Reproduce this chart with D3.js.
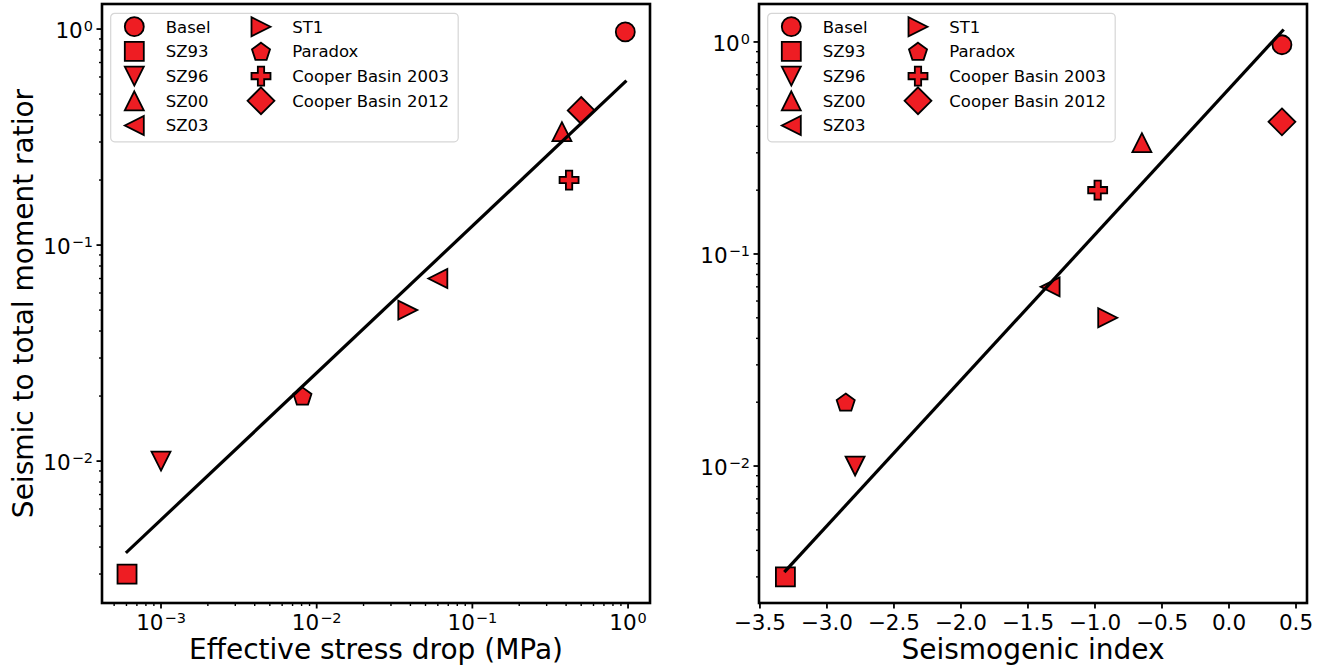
<!DOCTYPE html>
<html lang="en">
<head>
<meta charset="UTF-8">
<title>Moment ratio vs stress drop and seismogenic index</title>
<style>
    body { margin: 0; background: #fff; }
    text { font-family: "DejaVu Sans", sans-serif; fill: #000; }
    .tick-label { font-size: 21.5px; }
    .axis-title { font-size: 28px; }
    .legend-label { font-size: 16.5px; }
</style>
</head>
<body>
<svg width="1328" height="672"></svg>
<script src="https://d3js.org/d3.v7.min.js"></script>
<script>
// Data
const sites = ["Basel", "SZ93", "SZ96", "SZ00", "SZ03", "ST1", "Paradox", "Cooper Basin 2003", "Cooper Basin 2012"];
const markers = ["circle", "square", "triDown", "triUp", "triLeft", "triRight", "pentagon", "plus", "diamond"];
const stressDrop = [0.96, 6.05e-4, 1.0e-3, 0.376, 0.060, 0.0385, 0.0081, 0.418, 0.50];
const momentRatio = [0.97, 0.003, 0.01, 0.335, 0.07, 0.05, 0.02, 0.2, 0.42];
const seismogenicIndex = [0.395, -3.31, -2.79, -0.65, -1.335, -0.905, -2.86, -0.98, 0.395];

// Fitted trend lines (end points)
const fitStressX = [6.05e-4, 0.96];
const fitStressY = [0.0038, 0.57];
const fitIndexX = [-3.31, 0.40];
const fitIndexY = [0.0032, 1.13];

const indexTicks = [-3.5, -3.0, -2.5, -2.0, -1.5, -1.0, -0.5, 0.0, 0.5];

const red = "#ee1d23";
const svg = d3.select("svg");

// matplotlib-like marker shapes, s = marker size in px
function markerPath(type, s) {
    const h = s / 2;
    const p = d3.path();
    const poly = pts => {
        p.moveTo(pts[0][0], pts[0][1]);
        pts.slice(1).forEach(q => p.lineTo(q[0], q[1]));
        p.closePath();
    };
    switch (type) {
        case "circle": p.arc(0, 0, h, 0, 2 * Math.PI); break;
        case "square": poly([[-h, -h], [h, -h], [h, h], [-h, h]]); break;
        case "triUp": poly([[0, -h], [h, h], [-h, h]]); break;
        case "triDown": poly([[0, h], [h, -h], [-h, -h]]); break;
        case "triLeft": poly([[-h, 0], [h, -h], [h, h]]); break;
        case "triRight": poly([[h, 0], [-h, -h], [-h, h]]); break;
        case "pentagon": {
            const r = h, pts = [];
            for (let i = 0; i < 5; i++) {
                const a = -Math.PI / 2 + i * 2 * Math.PI / 5;
                pts.push([r * Math.cos(a), r * Math.sin(a) + 0.8]);
            }
            poly(pts);
            break;
        }
        case "plus": {
            const a = s / 6, b = s / 2;
            poly([[-a, -b], [a, -b], [a, -a], [b, -a], [b, a], [a, a], [a, b], [-a, b], [-a, a], [-b, a], [-b, -a], [-a, -a]]);
            break;
        }
        case "diamond": {
            const d = s * Math.SQRT1_2;
            poly([[0, -d], [d, 0], [0, d], [-d, 0]]);
            break;
        }
    }
    return p.toString();
}
const markerSize = 19;

function supLabel(sel, base, exp) {
    sel.append("tspan").text(base);
    sel.append("tspan").attr("font-size", 14.5).attr("dy", -7).attr("dx", 1).text(exp);
}
const expText = k => (k < 0 ? "\u2212" + (-k) : "" + k);

function drawPanel(opt) {
    const { x0, x1, y0, y1, x, y, xs, ys, fx, fy, xLog, xTitle, yTitle } = opt;
    const g = svg.append("g");

    // minor + major ticks on log axes
    const tickLen = 5.5, minorLen = 3;
    function logTicks(scale) {
        const [a, b] = scale.domain();
        const majors = [], minors = [];
        for (let k = Math.floor(Math.log10(a)); k <= Math.ceil(Math.log10(b)); k++) {
            for (let m = 1; m < 10; m++) {
                const v = m * Math.pow(10, k);
                if (v < a || v > b) continue;
                if (m === 1) majors.push(k); else minors.push(v);
            }
        }
        return { majors, minors };
    }

    // y axis (always log)
    const yt = logTicks(y);
    yt.minors.forEach(v => {
        g.append("line").attr("x1", x0 - minorLen).attr("x2", x0)
            .attr("y1", y(v)).attr("y2", y(v)).attr("stroke", "#000").attr("stroke-width", 1.4);
    });
    yt.majors.forEach(k => {
        const py = y(Math.pow(10, k));
        g.append("line").attr("x1", x0 - tickLen).attr("x2", x0)
            .attr("y1", py).attr("y2", py).attr("stroke", "#000").attr("stroke-width", 1.8);
        const t = g.append("text").attr("class", "tick-label")
            .attr("x", x0 - 9).attr("y", py + 9).attr("text-anchor", "end");
        supLabel(t, "10", expText(k));
    });

    // x axis
    if (xLog) {
        const xt = logTicks(x);
        xt.minors.forEach(v => {
            g.append("line").attr("x1", x(v)).attr("x2", x(v))
                .attr("y1", y1).attr("y2", y1 + minorLen).attr("stroke", "#000").attr("stroke-width", 1.4);
        });
        xt.majors.forEach(k => {
            const px = x(Math.pow(10, k));
            g.append("line").attr("x1", px).attr("x2", px)
                .attr("y1", y1).attr("y2", y1 + tickLen).attr("stroke", "#000").attr("stroke-width", 1.8);
            const t = g.append("text").attr("class", "tick-label")
                .attr("x", px).attr("y", y1 + 27).attr("text-anchor", "middle");
            supLabel(t, "10", expText(k));
        });
    } else {
        indexTicks.forEach(v => {
            const px = x(v);
            g.append("line").attr("x1", px).attr("x2", px)
                .attr("y1", y1).attr("y2", y1 + tickLen).attr("stroke", "#000").attr("stroke-width", 1.8);
            g.append("text").attr("class", "tick-label")
                .attr("x", px).attr("y", y1 + 27).attr("text-anchor", "middle")
                .text(d3.format(".1f")(v).replace("-", "\u2212"));
        });
    }

    // points
    g.selectAll(".pt").data(sites).enter().append("path")
        .attr("class", "pt")
        .attr("d", (d, i) => markerPath(markers[i], markerSize))
        .attr("transform", (d, i) => `translate(${x(xs[i])},${y(ys[i])})`)
        .attr("fill", red).attr("stroke", "#000").attr("stroke-width", 1.8)
        .attr("stroke-linejoin", "miter");

    // fit line
    const line = d3.line().x(d => x(d[0])).y(d => y(d[1]));
    g.append("path").datum(fx.map((v, i) => [v, fy[i]]))
        .attr("d", line).attr("fill", "none").attr("stroke", "#000")
        .attr("stroke-width", 3.2).attr("stroke-linecap", "square");

    // legend
    const lx = x0 + 8.7, ly = 13.3;
    const lg = g.append("g").attr("transform", `translate(${lx},${ly})`);
    lg.append("rect").attr("width", 347.5).attr("height", 128.5).attr("rx", 4)
        .attr("fill", "#fff").attr("fill-opacity", 0.8).attr("stroke", "#d6d6d6").attr("stroke-width", 1.2);
    sites.forEach((name, i) => {
        const col = i < 5 ? 0 : 1, row = i < 5 ? i : i - 5;
        const my = 13.4 + row * 24.7;
        const mx = col === 0 ? 23.6 : 150.3;
        lg.append("path").attr("d", markerPath(markers[i], markerSize))
            .attr("transform", `translate(${mx},${my})`)
            .attr("fill", red).attr("stroke", "#000").attr("stroke-width", 1.8);
        lg.append("text").attr("class", "legend-label")
            .attr("x", col === 0 ? 55 : 181.6).attr("y", my + 6)
            .text(name);
    });

    // frame
    g.append("rect").attr("x", x0).attr("y", y0).attr("width", x1 - x0).attr("height", y1 - y0)
        .attr("fill", "none").attr("stroke", "#000").attr("stroke-width", 2.6);

    // titles
    g.append("text").attr("class", "axis-title").attr("text-anchor", "middle")
        .attr("x", (x0 + x1) / 2).attr("y", 659).text(xTitle);
    if (yTitle) {
        g.append("text").attr("class", "axis-title").attr("text-anchor", "middle")
            .attr("transform", `translate(33,${(y0 + y1) / 2}) rotate(-90)`).text(yTitle);
    }
}

// Left panel: log-log
const xL = d3.scaleLog().domain([Math.pow(10, -3.379), Math.pow(10, 0.141)]).range([102, 650]);
const yL = d3.scaleLog().domain([Math.pow(10, -2.657), Math.pow(10, 0.116)]).range([603, 4]);
drawPanel({
    x0: 102, x1: 650, y0: 4, y1: 603, x: xL, y: yL,
    xs: stressDrop, ys: momentRatio, fx: fitStressX, fy: fitStressY, xLog: true,
    xTitle: "Effective stress drop (MPa)", yTitle: "Seismic to total moment ratior"
});

// Right panel: linear x, log y
const xR = d3.scaleLinear().domain([-3.507, 0.582]).range([759, 1307]);
const yR = d3.scaleLog().domain([Math.pow(10, -2.646), Math.pow(10, 0.179)]).range([603, 4]);
drawPanel({
    x0: 759, x1: 1307, y0: 4, y1: 603, x: xR, y: yR,
    xs: seismogenicIndex, ys: momentRatio, fx: fitIndexX, fy: fitIndexY, xLog: false,
    xTitle: "Seismogenic index", yTitle: null
});
</script>
</body>
</html>
